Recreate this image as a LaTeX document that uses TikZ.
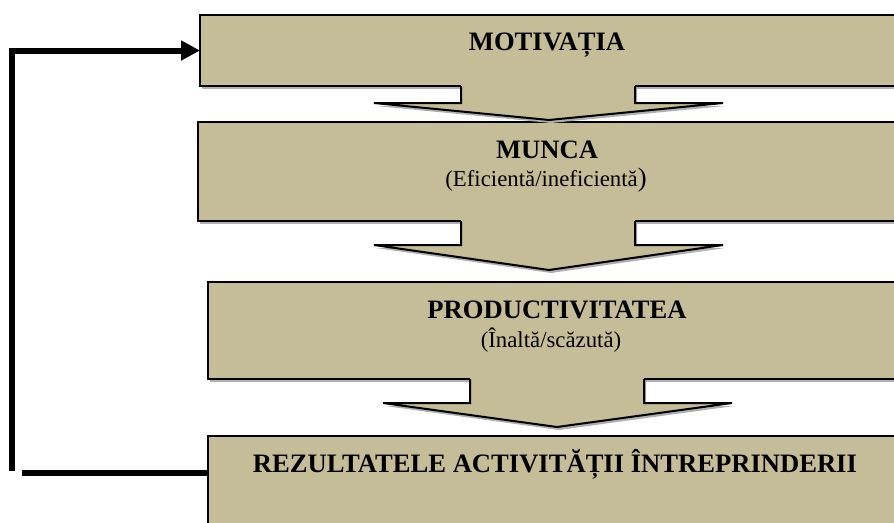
\documentclass[tikz,border=0pt]{standalone}
\usepackage{fontspec}
\setmainfont{Liberation Serif}
\usetikzlibrary{arrows.meta,shadows}

\definecolor{panelfill}{RGB}{196,189,152}
\definecolor{shade}{RGB}{176,176,176}

\tikzset{
  panel/.style={draw=black, line width=2pt, fill=panelfill, inner sep=0pt, outer sep=0pt,
    drop shadow={shadow xshift=2pt, shadow yshift=-3pt, fill=shade, opacity=1}},
  arrowbody/.style={fill=panelfill,
    drop shadow={shadow xshift=2pt, shadow yshift=-3pt, fill=shade, opacity=1}},
  arrowedge/.style={draw=black, line width=2pt, line join=miter},
  headtxt/.style={font=\bfseries\fontsize{26.6}{30}\selectfont, inner sep=0pt, anchor=base},
  subtxt/.style={font=\fontsize{22.8}{28}\selectfont, inner sep=0pt, anchor=base},
  feedback/.style={line width=6pt, line join=miter},
}

\begin{document}
\begin{tikzpicture}[x=1pt, y=-1pt]
  \useasboundingbox (0,0) rectangle (894,522);
  \clip (0,0) rectangle (894,522);

  % stage boxes (they run past the right margin)
  \node[panel, minimum width=700pt, minimum height=71pt] (m) at (550,50.5) {};
  \node[panel, minimum width=702pt, minimum height=99pt] (w) at (549,171.5) {};
  \node[panel, minimum width=692pt, minimum height=97pt] (p) at (554,330.5) {};
  \node[panel, minimum width=692pt, minimum height=104pt] (r) at (554,488) {};

  % block arrows between the stages
  \path[arrowbody] (461,84) -- (461,103) -- (374,103) -- (549,120) -- (723,103) -- (635,103) -- (635,84) -- cycle;
  \draw[arrowedge] (461,86) -- (461,103) -- (374,103) -- (549,120) -- (723,103) -- (635,103) -- (635,86);

  \path[arrowbody] (461,219) -- (461,245) -- (374,245) -- (549,270) -- (723,245) -- (635,245) -- (635,219) -- cycle;
  \draw[arrowedge] (461,221) -- (461,245) -- (374,245) -- (549,270) -- (723,245) -- (635,245) -- (635,221);

  \path[arrowbody] (470,377) -- (470,403) -- (383,403) -- (557,427) -- (732,403) -- (644,403) -- (644,377) -- cycle;
  \draw[arrowedge] (470,379) -- (470,403) -- (383,403) -- (557,427) -- (732,403) -- (644,403) -- (644,379);

  % labels
  \node[headtxt] (t1) at (547,50) {MOTIVAȚIA};
  \node[headtxt] (t2) at (547,158) {MUNCA};
  \node[subtxt] (t2b) at (546,186) {(Eficientă/ineficientă{\fontsize{26.6}{30}\selectfont )}};
  \node[headtxt] (t3) at (557,318) {PRODUCTIVITATEA};
  \node[subtxt] (t3b) at (551,347) {(Înaltă/scăzută)};
  \node[headtxt] (t4) at (555,472) {REZULTATELE ACTIVITĂȚII ÎNTREPRINDERII};

  % feedback loop from the results back to motivation
  \coordinate (fbtop) at (12,471);
  \coordinate (fbend) at (22,472.5);
  \draw[feedback] (r.west |- fbend) -- (fbend);
  \draw[feedback, -{Triangle[length=19pt, width=19pt]}] (fbtop) |- (m.west);
\end{tikzpicture}
\end{document}
